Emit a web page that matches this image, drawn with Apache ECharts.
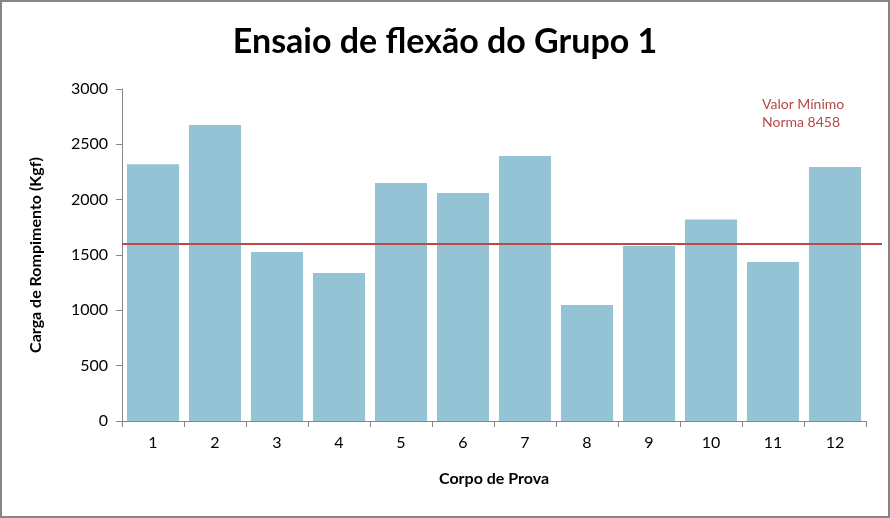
<!DOCTYPE html>
<html><head><meta charset="utf-8">
<script src="https://cdn.jsdelivr.net/npm/echarts@6/dist/echarts.min.js"></script>
<style>html,body{margin:0;padding:0;background:#fff;}#c{width:890px;height:518px;}
#frame{position:absolute;left:0;top:0;width:886px;height:514px;border:2px solid #868686;pointer-events:none;}</style>
</head><body><div id="c"></div><div id="frame"></div>
<script>
const categories = ['1','2','3','4','5','6','7','8','9','10','11','12'];
const cargas = [2320, 2675, 1527, 1337, 2150, 2060, 2395, 1048, 1581, 1820, 1437, 2295];
const valorMinimo = 1600;
const yTicks = {min: 0, max: 3000, interval: 500};
const font = 'Lato, "Open Sans", sans-serif';
const chart = echarts.init(document.getElementById('c'));
chart.setOption({
  animation: false,
  title: {text: 'Ensaio de flexão do Grupo 1', left: 'center', top: 20,
    textStyle: {fontFamily: font, fontSize: 34, fontWeight: 'bold', color: '#000'}},
  grid: [{left: 122, right: 24, top: 89, bottom: 97}, {left: 122, right: 8, top: 89, bottom: 97}],
  xAxis: [{type: 'category', data: categories, gridIndex: 0,
    name: 'Corpo de Prova', nameLocation: 'middle', nameGap: 50,
    nameTextStyle: {fontFamily: font, fontSize: 16, fontWeight: 'bold', color: '#000'},
    axisLine: {lineStyle: {color: '#868686'}},
    axisTick: {show: true, length: 6, lineStyle: {color: '#868686'}},
    axisLabel: {fontFamily: font, fontSize: 16, color: '#000', margin: 14}},
    {type: 'value', gridIndex: 1, min: 0, max: 1, show: false}],
  yAxis: [{type: 'value', gridIndex: 0, min: yTicks.min, max: yTicks.max, interval: yTicks.interval,
    name: 'Carga de Rompimento (Kgf)', nameLocation: 'middle', nameGap: 78,
    nameTextStyle: {fontFamily: font, fontSize: 16, fontWeight: 'bold', color: '#000'},
    axisLine: {show: true, lineStyle: {color: '#868686'}},
    axisTick: {show: true, length: 6, lineStyle: {color: '#868686'}},
    splitLine: {show: false},
    axisLabel: {fontFamily: font, fontSize: 16, color: '#000', margin: 14, formatter: v => String(v)}},
    {type: 'value', gridIndex: 1, min: yTicks.min, max: yTicks.max, show: false}],
  series: [
    {type: 'bar', data: cargas, xAxisIndex: 0, yAxisIndex: 0, barCategoryGap: '16%',
      itemStyle: {color: '#93C3D5'}},
    {type: 'line', xAxisIndex: 1, yAxisIndex: 1, data: [[0, valorMinimo], [1, valorMinimo]],
      symbol: 'none', lineStyle: {color: '#B94A48', width: 2}, z: 5}
  ],
  graphic: [{type: 'text', left: 762, top: 95,
    style: {text: 'Valor Mínimo\nNorma 8458', fill: '#B24A48', font: '14px ' + font, lineHeight: 18}}]
});
</script></body></html>
